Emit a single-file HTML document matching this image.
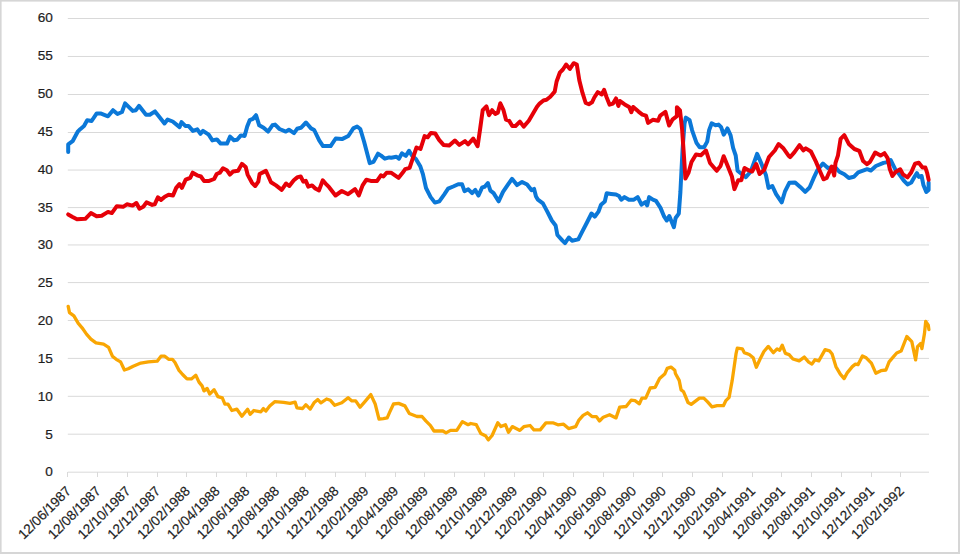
<!DOCTYPE html><html><head><meta charset="utf-8"><style>html,body{margin:0;padding:0;background:#fff;}body{width:960px;height:554px;overflow:hidden;position:relative;}svg{position:absolute;left:0;top:0;}text{font-family:"Liberation Sans",sans-serif;}</style></head><body>
<svg width="960" height="554" viewBox="0 0 960 554">
<rect x="0" y="0" width="960" height="1.6" fill="#d6d6d6"/><rect x="0" y="0" width="1.6" height="554" fill="#d6d6d6"/><rect x="958" y="0" width="2" height="554" fill="#d6d6d6"/><rect x="0" y="552" width="960" height="2" fill="#d6d6d6"/>
<g stroke="#d9d9d9" stroke-width="1"><line x1="67.8" y1="472.2" x2="929" y2="472.2"/><line x1="67.8" y1="434.2" x2="929" y2="434.2"/><line x1="67.8" y1="396.3" x2="929" y2="396.3"/><line x1="67.8" y1="358.4" x2="929" y2="358.4"/><line x1="67.8" y1="320.47" x2="929" y2="320.47"/><line x1="67.8" y1="282.58" x2="929" y2="282.58"/><line x1="67.8" y1="244.96" x2="929" y2="244.96"/><line x1="67.8" y1="207.6" x2="929" y2="207.6"/><line x1="67.8" y1="170.05" x2="929" y2="170.05"/><line x1="67.8" y1="132.5" x2="929" y2="132.5"/><line x1="67.8" y1="94.5" x2="929" y2="94.5"/><line x1="67.8" y1="56.46" x2="929" y2="56.46"/><line x1="67.8" y1="18.5" x2="929" y2="18.5"/></g>
<g stroke="#d9d9d9" stroke-width="1"><line x1="67.5" y1="472" x2="67.5" y2="477"/><line x1="97.5" y1="472" x2="97.5" y2="477"/><line x1="127.5" y1="472" x2="127.5" y2="477"/><line x1="157.5" y1="472" x2="157.5" y2="477"/><line x1="186.5" y1="472" x2="186.5" y2="477"/><line x1="216.5" y1="472" x2="216.5" y2="477"/><line x1="246.5" y1="472" x2="246.5" y2="477"/><line x1="276.5" y1="472" x2="276.5" y2="477"/><line x1="305.5" y1="472" x2="305.5" y2="477"/><line x1="335.5" y1="472" x2="335.5" y2="477"/><line x1="365.5" y1="472" x2="365.5" y2="477"/><line x1="395.5" y1="472" x2="395.5" y2="477"/><line x1="424.5" y1="472" x2="424.5" y2="477"/><line x1="454.5" y1="472" x2="454.5" y2="477"/><line x1="484.5" y1="472" x2="484.5" y2="477"/><line x1="514.5" y1="472" x2="514.5" y2="477"/><line x1="543.5" y1="472" x2="543.5" y2="477"/><line x1="573.5" y1="472" x2="573.5" y2="477"/><line x1="603.5" y1="472" x2="603.5" y2="477"/><line x1="633.5" y1="472" x2="633.5" y2="477"/><line x1="662.5" y1="472" x2="662.5" y2="477"/><line x1="692.5" y1="472" x2="692.5" y2="477"/><line x1="722.5" y1="472" x2="722.5" y2="477"/><line x1="752.5" y1="472" x2="752.5" y2="477"/><line x1="781.5" y1="472" x2="781.5" y2="477"/><line x1="811.5" y1="472" x2="811.5" y2="477"/><line x1="841.5" y1="472" x2="841.5" y2="477"/><line x1="871.5" y1="472" x2="871.5" y2="477"/><line x1="900.5" y1="472" x2="900.5" y2="477"/></g>
<g fill="#1e1e1e" stroke="#1e1e1e" stroke-width="0.2" font-size="13.6" text-anchor="end"><text x="52.8" y="476.4">0</text><text x="52.8" y="438.5">5</text><text x="52.8" y="400.7">10</text><text x="52.8" y="362.9">15</text><text x="52.8" y="325.0">20</text><text x="52.8" y="287.2">25</text><text x="52.8" y="249.4">30</text><text x="52.8" y="211.6">35</text><text x="52.8" y="173.7">40</text><text x="52.8" y="135.9">45</text><text x="52.8" y="98.1">50</text><text x="52.8" y="60.2">55</text><text x="52.8" y="22.4">60</text></g>
<g fill="#1e1e1e" stroke="#1e1e1e" stroke-width="0.2" font-size="13.6" text-anchor="end"><text transform="translate(71.8,491.9) rotate(-45)">12/06/1987</text><text transform="translate(101.5,491.9) rotate(-45)">12/08/1987</text><text transform="translate(131.3,491.9) rotate(-45)">12/10/1987</text><text transform="translate(161.1,491.9) rotate(-45)">12/12/1987</text><text transform="translate(190.8,491.9) rotate(-45)">12/02/1988</text><text transform="translate(220.6,491.9) rotate(-45)">12/04/1988</text><text transform="translate(250.3,491.9) rotate(-45)">12/06/1988</text><text transform="translate(280.1,491.9) rotate(-45)">12/08/1988</text><text transform="translate(309.8,491.9) rotate(-45)">12/10/1988</text><text transform="translate(339.6,491.9) rotate(-45)">12/12/1988</text><text transform="translate(369.3,491.9) rotate(-45)">12/02/1989</text><text transform="translate(399.1,491.9) rotate(-45)">12/04/1989</text><text transform="translate(428.8,491.9) rotate(-45)">12/06/1989</text><text transform="translate(458.6,491.9) rotate(-45)">12/08/1989</text><text transform="translate(488.3,491.9) rotate(-45)">12/10/1989</text><text transform="translate(518.0,491.9) rotate(-45)">12/12/1989</text><text transform="translate(547.8,491.9) rotate(-45)">12/02/1990</text><text transform="translate(577.5,491.9) rotate(-45)">12/04/1990</text><text transform="translate(607.3,491.9) rotate(-45)">12/06/1990</text><text transform="translate(637.0,491.9) rotate(-45)">12/08/1990</text><text transform="translate(666.8,491.9) rotate(-45)">12/10/1990</text><text transform="translate(696.5,491.9) rotate(-45)">12/12/1990</text><text transform="translate(726.3,491.9) rotate(-45)">12/02/1991</text><text transform="translate(756.0,491.9) rotate(-45)">12/04/1991</text><text transform="translate(785.8,491.9) rotate(-45)">12/06/1991</text><text transform="translate(815.5,491.9) rotate(-45)">12/08/1991</text><text transform="translate(845.3,491.9) rotate(-45)">12/10/1991</text><text transform="translate(875.0,491.9) rotate(-45)">12/12/1991</text><text transform="translate(904.8,491.9) rotate(-45)">12/02/1992</text></g>
<g fill="none" stroke-linejoin="round" stroke-linecap="round">
<polyline stroke="#0b78d8" stroke-width="4.0" points="68.2,152.0 68.2,144.4 72.6,141.2 77.7,131.7 80.2,129.2 84.0,126.0 87.2,120.3 91.6,121.0 96.7,113.4 100.5,113.4 108.0,116.3 113.0,110.2 117.5,114.0 122.0,112.0 125.1,103.3 132.7,110.9 135.9,110.2 139.0,105.8 146.0,114.7 149.8,114.7 155.0,111.4 160.0,117.7 164.5,123.4 167.6,119.6 172.7,121.5 179.6,127.1 181.5,122.1 185.3,125.9 188.5,125.9 192.9,130.9 197.3,129.3 200.5,133.8 203.0,130.9 208.7,134.7 212.4,140.4 216.9,139.4 220.7,143.6 227.0,143.6 230.1,136.6 233.9,140.2 237.1,139.8 240.9,135.4 244.6,136.0 247.2,126.5 249.7,120.2 252.9,118.9 256.0,115.2 259.2,125.3 263.6,127.8 268.0,131.6 272.4,125.3 275.1,124.6 279.5,129.0 285.8,131.6 288.9,129.7 294.0,133.1 297.1,128.8 300.9,127.8 306.0,122.5 311.0,128.4 314.2,130.0 319.2,140.4 323.0,146.1 330.6,146.1 335.7,138.5 342.0,139.1 348.3,136.0 353.3,128.4 357.1,126.5 360.3,129.0 364.1,141.7 369.7,163.1 373.5,161.9 378.0,153.7 381.1,155.6 384.9,158.7 389.3,157.4 391.3,157.7 396.4,156.7 398.9,158.7 402.0,153.3 405.8,155.8 409.0,150.8 412.1,155.8 415.9,159.0 420.4,166.6 422.9,174.1 426.0,188.0 430.5,196.9 434.9,202.6 439.3,201.3 444.3,194.3 448.1,188.7 453.2,186.5 458.2,184.2 462.0,184.2 464.5,191.2 468.3,189.3 472.1,193.1 475.3,189.9 478.4,195.6 482.2,187.4 484.7,186.8 487.9,183.0 490.4,190.6 493.6,193.1 498.6,201.3 503.0,191.8 507.6,185.1 512.0,178.8 517.0,185.1 522.1,181.9 527.1,184.5 531.6,190.2 534.1,188.9 536.0,196.5 537.9,199.6 542.9,203.4 547.3,211.6 551.8,220.5 555.6,225.5 557.4,235.0 562.5,240.7 565.0,243.2 568.8,237.5 572.0,240.7 578.3,239.4 582.1,231.8 587.1,222.3 591.5,213.5 594.7,216.7 598.5,211.6 601.0,204.7 604.8,201.5 606.7,193.3 611.1,193.9 616.0,194.5 619.0,196.0 621.3,199.7 624.5,197.1 628.9,199.7 633.9,199.7 637.7,197.1 641.5,204.7 645.3,202.2 647.2,205.4 649.1,197.1 652.9,199.7 656.0,200.9 660.5,207.9 664.2,216.7 666.8,220.5 669.3,216.1 673.9,227.2 675.6,218.0 678.8,213.6 680.4,192.0 681.5,170.0 682.6,149.2 684.5,123.9 685.8,117.6 689.6,120.2 692.1,130.3 696.5,142.9 699.7,147.3 704.1,147.3 707.2,141.6 709.1,130.3 711.7,123.3 715.5,125.2 718.6,124.6 721.1,127.1 723.7,134.7 727.4,128.4 730.6,135.3 733.1,147.9 735.7,155.5 737.6,170.7 740.7,173.2 745.8,177.1 750.8,171.5 757.1,153.8 761.5,163.9 766.0,175.3 768.5,187.9 772.3,186.0 776.1,194.2 781.7,202.4 784.9,191.7 789.3,182.8 795.1,182.4 800.2,186.9 805.2,191.9 809.6,187.5 813.4,178.7 817.2,170.5 822.9,163.5 827.9,167.9 834.9,166.7 839.3,171.7 844.3,174.2 848.8,178.0 853.8,176.8 858.2,172.3 867.1,169.2 870.9,170.5 875.9,166.0 883.5,162.9 886.0,162.4 890.6,160.0 895.3,169.4 899.1,174.1 903.8,180.6 907.5,184.4 911.3,182.5 915.0,176.0 916.9,173.1 918.8,176.9 921.6,176.0 923.5,185.3 926.3,191.9 928.6,190.0 928.6,182.5"/>
<polyline stroke="#e60008" stroke-width="4.0" points="68.2,214.4 72.6,216.9 77.0,219.2 85.3,218.8 90.9,213.1 96.6,216.3 101.7,215.7 108.0,211.9 111.8,213.1 116.8,206.2 123.1,206.8 126.9,204.3 132.6,205.6 136.4,203.0 139.5,208.7 143.3,206.8 146.5,202.4 152.2,204.9 154.7,204.3 157.9,197.3 161.0,199.9 164.8,196.7 168.6,194.8 173.0,195.5 176.2,187.9 179.4,184.1 181.9,187.9 185.7,179.7 190.2,177.8 192.7,172.7 197.1,175.3 200.9,176.5 204.0,180.9 209.1,180.9 214.1,179.0 216.7,174.0 219.8,172.7 223.0,168.3 226.8,170.2 229.9,174.6 233.1,171.5 238.1,170.8 241.9,163.9 245.7,167.0 247.6,174.6 252.0,182.8 255.2,186.0 258.3,181.6 259.6,174.0 263.4,172.1 265.9,170.8 271.0,182.2 276.0,185.4 281.7,189.8 286.1,183.5 289.3,186.0 293.8,180.3 297.6,177.1 300.7,176.5 303.3,181.6 305.8,180.9 308.3,186.6 312.1,185.4 315.3,188.5 319.0,190.4 322.8,180.3 326.6,184.7 329.1,187.2 335.5,195.5 341.8,191.0 348.1,194.2 355.0,189.1 358.8,195.5 362.6,185.4 366.4,179.7 370.8,180.9 377.1,180.9 380.9,175.3 383.4,176.5 386.6,172.7 391.0,172.7 398.6,177.8 403.6,171.5 405.2,169.1 409.6,167.8 412.1,160.3 416.5,147.5 420.5,149.0 424.6,136.1 427.7,137.3 430.9,132.9 435.3,133.6 439.1,139.9 443.5,144.9 449.2,145.6 454.9,140.5 459.3,144.9 465.0,141.1 468.1,144.3 473.2,138.6 477.6,146.2 480.1,129.1 482.7,110.2 486.4,106.4 489.0,115.3 492.1,110.2 495.3,114.0 497.8,112.7 500.3,103.3 503.5,110.2 506.0,119.7 509.2,120.9 512.3,126.0 515.5,126.0 519.9,121.6 523.7,126.6 528.8,120.7 532.6,114.3 537.0,106.8 539.6,103.6 543.4,100.5 546.5,99.8 550.3,96.7 554.7,91.6 556.6,81.5 559.8,72.7 562.9,69.5 566.1,64.5 569.9,68.9 573.7,63.2 576.8,64.5 579.3,80.3 582.5,92.9 585.7,103.0 588.8,104.2 592.0,102.3 594.3,97.5 597.8,92.1 601.8,94.5 604.1,89.9 606.5,97.0 609.6,104.7 613.0,103.6 616.0,98.4 618.4,106.0 619.8,101.0 624.7,104.4 629.2,107.0 631.3,112.2 633.2,107.0 638.5,111.6 642.4,114.6 646.0,115.6 648.1,122.9 652.8,119.8 658.1,120.8 660.2,115.6 665.4,111.9 669.1,125.5 672.7,119.3 676.9,116.1 676.9,107.2 680.0,110.4 682.1,129.2 683.9,155.5 685.4,178.5 688.6,172.5 691.5,162.0 696.0,154.5 700.9,155.3 706.0,150.5 710.0,163.0 716.7,170.8 720.5,166.0 723.7,156.2 727.7,166.0 731.9,176.5 734.4,189.1 738.2,180.3 741.3,180.3 744.5,168.0 748.9,170.4 752.1,171.5 756.2,164.0 759.6,174.0 764.1,170.0 769.0,157.0 774.8,150.5 778.6,144.1 783.6,148.6 788.7,155.8 790.1,157.2 794.5,152.1 799.5,145.2 803.3,150.3 805.8,148.4 810.9,151.5 815.9,161.6 819.1,169.2 823.5,179.3 826.7,178.0 831.7,166.7 834.2,175.5 835.5,162.9 838.0,155.3 840.6,138.9 844.3,135.1 848.8,143.9 854.4,149.0 859.3,150.8 863.1,161.0 867.0,164.2 870.0,161.9 875.2,152.5 880.5,155.6 884.5,153.2 887.6,158.1 889.8,169.0 892.4,176.0 895.5,172.0 900.2,169.3 903.0,174.4 907.5,177.4 911.3,172.2 915.0,163.8 918.8,162.8 922.5,167.5 925.4,167.5 927.2,173.1 928.6,179.7"/>
<polyline stroke="#f9a603" stroke-width="3.3" points="68.2,306.3 69.5,312.6 73.9,315.8 78.3,323.4 82.1,327.8 86.5,334.1 90.9,339.1 96.0,342.9 103.6,344.2 108.6,347.3 112.4,356.2 116.2,359.3 120.6,361.9 124.4,370.0 128.2,368.8 133.2,366.3 140.8,363.1 148.4,361.9 157.2,361.2 161.0,356.2 164.8,356.2 168.6,359.3 172.4,359.3 175.0,362.5 178.8,370.1 182.6,374.5 187.0,378.9 191.4,378.9 195.8,375.2 199.0,382.1 202.1,385.9 204.0,390.9 207.2,388.4 209.7,394.1 214.1,389.7 217.9,396.6 222.3,397.9 224.9,404.2 228.0,404.2 231.8,410.5 236.9,409.2 241.9,416.2 247.6,409.2 250.1,414.3 253.9,410.5 260.9,411.8 263.4,408.6 265.9,411.1 269.7,406.1 274.7,401.7 283.6,402.3 290.0,403.4 295.1,402.1 296.9,407.8 302.6,408.5 305.8,404.7 310.2,409.1 314.0,402.8 317.8,399.6 320.9,402.8 326.6,399.0 330.4,400.3 334.8,405.3 341.8,402.8 348.1,397.7 351.9,400.9 355.7,400.9 360.1,407.2 364.5,402.1 370.8,394.6 375.2,404.0 379.0,419.2 383.4,418.6 387.2,417.9 389.7,412.2 393.5,404.0 398.6,403.4 404.9,405.9 409.3,413.5 417.0,416.5 422.0,416.5 425.8,420.9 430.3,425.4 434.0,431.0 442.9,431.0 446.0,432.9 450.5,430.4 456.8,430.4 462.4,421.6 468.1,424.7 470.7,423.5 476.3,424.7 480.8,433.6 485.8,436.1 488.3,439.9 492.1,435.5 497.8,422.8 501.0,426.6 505.4,424.7 508.5,432.3 512.3,426.6 519.9,430.4 523.8,426.7 530.1,425.5 533.9,429.9 540.2,429.9 545.9,422.9 553.5,422.9 557.9,424.8 563.6,424.2 568.6,428.6 575.6,426.7 578.7,420.4 583.1,415.4 587.5,412.8 592.0,416.6 596.4,416.6 599.5,421.0 603.3,417.2 609.6,414.7 616.0,417.9 619.7,407.1 626.1,406.5 631.1,400.2 635.0,400.6 639.4,403.8 641.9,398.1 645.7,398.1 650.2,388.0 655.2,387.3 659.6,378.5 664.7,374.1 667.2,368.4 671.0,367.1 674.8,370.3 675.4,373.5 679.2,380.4 681.1,389.9 683.6,391.8 688.0,402.5 691.2,404.4 699.4,398.1 703.8,398.1 707.6,401.9 712.0,406.9 717.1,405.7 723.4,405.7 725.9,400.6 729.1,397.4 732.2,380.4 736.0,353.9 737.3,348.2 742.3,348.8 744.2,352.6 749.3,354.5 753.2,357.8 756.3,367.2 760.1,359.0 763.9,351.5 768.3,346.4 773.4,352.7 777.1,348.9 779.7,350.2 782.2,345.2 785.4,353.4 789.1,354.6 792.9,359.0 799.2,360.9 804.3,357.1 808.7,362.2 811.9,364.1 815.0,359.7 818.8,360.9 825.1,349.6 829.5,350.8 832.1,354.0 835.9,366.6 840.3,374.2 844.1,378.6 847.2,372.9 852.3,366.6 855.4,364.1 858.0,364.7 862.4,355.9 866.2,357.8 871.4,363.1 875.8,373.2 880.9,370.7 885.9,370.0 889.1,361.8 892.9,357.4 896.7,353.0 901.1,351.1 906.8,336.5 911.8,341.6 915.6,359.9 917.5,346.7 920.7,343.5 921.9,348.6 924.5,333.4 925.7,321.4 928.3,325.2 928.9,329.6"/>
</g></svg></body></html>
